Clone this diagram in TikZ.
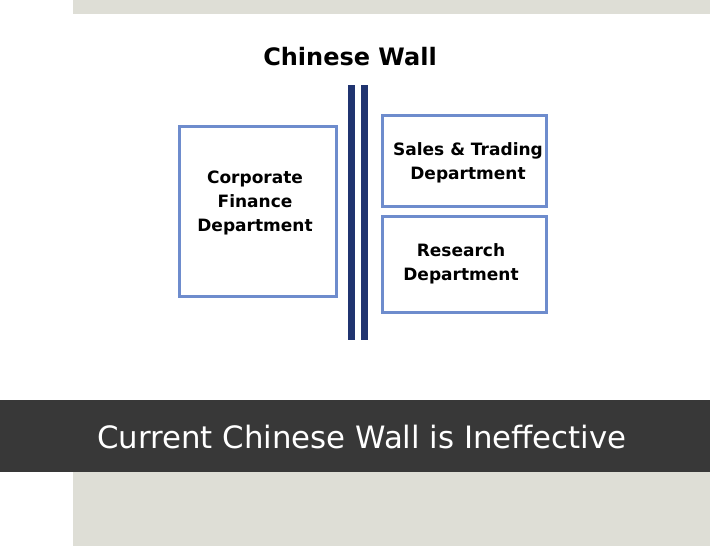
\documentclass[tikz,border=0pt]{standalone}
\usepackage{fontspec}
\setmainfont{DejaVu Sans}
\usetikzlibrary{positioning}
\definecolor{bandgray}{RGB}{222,222,214}
\definecolor{banddark}{RGB}{56,56,56}
\definecolor{wallblue}{RGB}{32,52,112}
\definecolor{boxblue}{RGB}{110,140,205}
\tikzset{
  dept/.style={draw=boxblue,line width=3pt,fill=white,inner sep=0pt},
  depttext/.style={align=center,font=\fontsize{17}{24}\selectfont\bfseries},
  wall/.style={fill=wallblue,draw=none}
}
\begin{document}
\begin{tikzpicture}[x=1pt,y=-1pt]
  \useasboundingbox (0,0) rectangle (728,546);
  % bands
  \fill[bandgray] (73,0) rectangle (710,14);
  \fill[banddark] (0,400) rectangle (710,472);
  \fill[bandgray] (73,472) rectangle (710,546);
  \node[anchor=west,text=white,font=\fontsize{30.8}{35}\selectfont,inner sep=0pt] (caption) at (97,437) {Current Chinese Wall is Ineffective};

  % title
  \node[font=\fontsize{24}{28}\selectfont\bfseries] (title) at (350,57) {Chinese Wall};

  % wall
  \fill[wall] (348,85) rectangle (355,340);
  \fill[wall] (361,85) rectangle (368,340);

  % departments
  \node[dept,minimum width=157pt,minimum height=170pt] (corp) at (257.5,211) {};
  \node[depttext] (corptext) at (255,203) {Corporate\\Finance\\Department};
  \node[dept,minimum width=164pt,minimum height=91pt] (sales) at (464,160.5) {};
  \node[depttext] (salestext) at (468,163) {Sales \& Trading\\ Department};
  \node[dept,minimum width=164pt,minimum height=96pt] (research) at (464,264) {};
  \node[depttext] (researchtext) at (461,264) {Research\\Department};
\end{tikzpicture}
\end{document}
